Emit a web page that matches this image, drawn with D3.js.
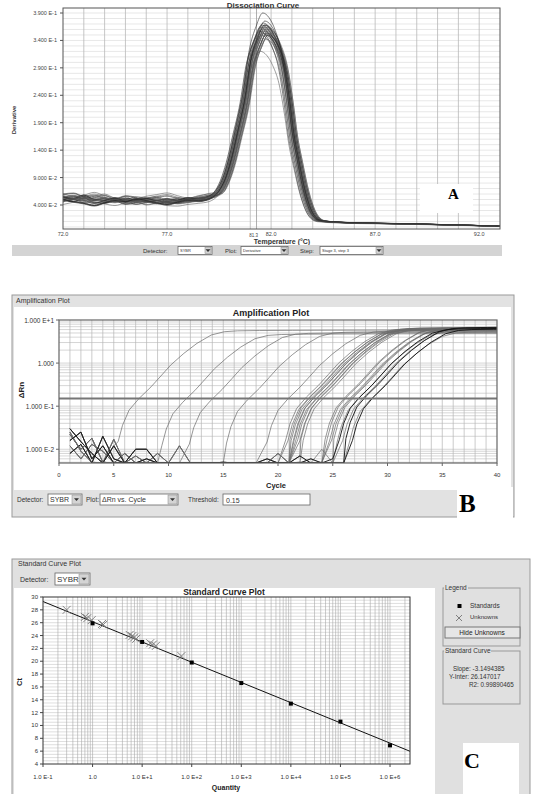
<!DOCTYPE html>
<html>
<head>
<meta charset="utf-8">
<script src="https://cdn.jsdelivr.net/npm/d3@7"></script>
<style>
    body { margin:0; background:#fff; }
    svg { display:block; font-family:"Liberation Sans", Arial, sans-serif; }
    .serif { font-family:"Liberation Serif", "Times New Roman", serif; font-weight:bold; }
</style>
</head>
<body>
<svg id="fig" width="537" height="794"></svg>
<script>
// ---------- panel A : dissociation curve ----------
var aYTicks = [0.39, 0.34, 0.29, 0.24, 0.19, 0.14, 0.09, 0.04];
var aYLabels = ["3.900 E-1", "3.400 E-1", "2.900 E-1", "2.400 E-1", "1.900 E-1", "1.400 E-1", "9.000 E-2", "4.000 E-2"];
var aXTicks = [72, 77, 82, 87, 92];
var aXLabels = ["72.0", "77.0", "82.0", "87.0", "92.0"];
var aTm = 81.3;
// baseline temperatures and hand read wiggles of the wells before the melt
var aBaseT = [72, 72.5, 73, 73.5, 74, 74.5, 75, 75.5, 76, 76.5, 77, 77.5, 78, 78.5, 79];
var aBaseNoise = [
    [0.055, 0.052, 0.058, 0.050, 0.049, 0.053, 0.047, 0.050, 0.052, 0.048, 0.051, 0.049, 0.053, 0.052, 0.056],
    [0.050, 0.056, 0.049, 0.054, 0.058, 0.051, 0.053, 0.046, 0.049, 0.054, 0.047, 0.052, 0.050, 0.055, 0.058],
    [0.058, 0.060, 0.053, 0.047, 0.051, 0.049, 0.055, 0.052, 0.044, 0.047, 0.050, 0.046, 0.048, 0.051, 0.054],
    [0.052, 0.048, 0.045, 0.041, 0.046, 0.050, 0.048, 0.053, 0.050, 0.046, 0.043, 0.047, 0.051, 0.050, 0.053],
    [0.060, 0.055, 0.057, 0.062, 0.056, 0.052, 0.049, 0.051, 0.055, 0.058, 0.061, 0.056, 0.052, 0.055, 0.060],
    [0.047, 0.051, 0.055, 0.052, 0.048, 0.045, 0.049, 0.047, 0.051, 0.049, 0.045, 0.044, 0.047, 0.049, 0.052]
];
// melt peak
var aPeakT = [79.5, 79.8, 80.1, 80.4, 80.75, 81.05, 81.38, 81.7, 82.0, 82.3, 82.6, 82.88, 83.08, 83.32, 83.62, 83.92, 84.15, 84.45, 85.3, 86.5, 88.2, 90.5, 93.0];
var aPeakV = [0.065, 0.086, 0.122, 0.171, 0.231, 0.304, 0.345, 0.368, 0.360, 0.338, 0.300, 0.231, 0.171, 0.122, 0.067, 0.031, 0.017, 0.011, 0.0085, 0.007, 0.006, 0.004, 0.0015];
// per well: temperature shift and peak height
var aShift = [-0.25, -0.2, -0.18, -0.15, -0.12, -0.1, -0.08, -0.06, -0.05, -0.03, -0.02, 0, 0, 0.02, 0.03, 0.05, 0.06, 0.08, 0.1, 0.12, 0.14, 0.16, 0.18, 0.2, -0.1, 0.05, -0.22, 0.0];
var aScale = [0.97, 0.99, 0.95, 1.0, 0.98, 0.96, 1.01, 0.97, 0.99, 1.0, 0.96, 0.98, 1.0, 0.97, 0.99, 0.95, 1.0, 0.98, 0.96, 0.99, 0.97, 0.95, 0.98, 0.96, 1.06, 0.93, 0.87, 1.02];
var aBaseOff = [0.000, -0.005, 0.002, -0.002, -0.004, 0.003, -0.006, -0.001, 0.001, -0.003, -0.002, 0.000, -0.005, 0.002, -0.004, -0.001, 0.001, -0.006, -0.002, 0.000, -0.003, 0.002, -0.005, -0.001, 0.000, -0.004, 0.001, -0.002];

// ---------- panel B : amplification plot ----------
var bXTicks = [0, 5, 10, 15, 20, 25, 30, 35, 40];
var bYTicks = [10, 1, 0.1, 0.01];
var bYLabels = ["1.000 E+1", "1.000", "1.000 E-1", "1.000 E-2"];
var bThreshold = 0.15;
// curve shape around the threshold cycle (cycles from Ct, dRn)
var bDc = [-1.9, -1.5, -0.9, 0, 1.1, 2.0, 2.9, 4.1, 5.3, 6.6, 7.8, 9.0, 11, 14, 18, 25, 34];
var bV = [0.015, 0.036, 0.081, 0.15, 0.28, 0.50, 0.90, 1.68, 2.87, 4.48, 5.35, 5.6, 5.7, 5.75, 5.8, 5.85, 5.9];
var bCt = [7.3, 11.3, 13.8, 17.2, 20.9, 22.6, 22.8, 23.0, 23.1, 23.3, 23.4, 23.5, 23.7, 23.9, 24.0, 24.2, 26.2, 26.4, 26.6, 26.8, 27.0, 27.3, 27.5, 27.8, 28.1, 28.4, 28.7];
var bPlateau = [5.6, 4.6, 4.9, 5.2, 5.5, 6.1, 5.8, 6.3, 5.9, 6.0, 6.4, 5.7, 6.2, 5.9, 6.5, 6.0, 6.3, 6.6, 5.8, 6.1, 6.4, 5.5, 6.2, 5.9, 6.6, 5.2, 6.0];
var bDark = [22, 24, 26];
// baseline noise for cycles 1..28
var bNoise = [
    [0.030, 0.015, 0.008, 0.004, 0.012, 0.003, 0.002, 0.006, 0.002, 0.001, 0.003, 0.001, 0.002, 0.001, 0.003, 0.002, 0.001, 0.004, 0.002, 0.001, 0.003, 0.002, 0.006, 0.002, 0.003, 0.004, 0.002, 0.003],
    [0.022, 0.010, 0.018, 0.005, 0.003, 0.008, 0.002, 0.001, 0.002, 0.004, 0.001, 0.002, 0.001, 0.002, 0.001, 0.002, 0.003, 0.001, 0.002, 0.008, 0.004, 0.003, 0.002, 0.005, 0.003, 0.002, 0.004, 0.002],
    [0.016, 0.025, 0.006, 0.012, 0.004, 0.002, 0.010, 0.010, 0.003, 0.001, 0.002, 0.001, 0.003, 0.001, 0.002, 0.001, 0.002, 0.002, 0.003, 0.002, 0.001, 0.007, 0.003, 0.002, 0.004, 0.003, 0.002, 0.003],
    [0.012, 0.006, 0.013, 0.009, 0.002, 0.004, 0.002, 0.003, 0.008, 0.002, 0.012, 0.001, 0.002, 0.003, 0.001, 0.002, 0.001, 0.002, 0.001, 0.003, 0.002, 0.002, 0.004, 0.010, 0.003, 0.002, 0.003, 0.002],
    [0.008, 0.013, 0.004, 0.020, 0.006, 0.003, 0.002, 0.001, 0.002, 0.003, 0.002, 0.001, 0.002, 0.002, 0.005, 0.003, 0.001, 0.002, 0.006, 0.002, 0.003, 0.002, 0.002, 0.003, 0.006, 0.004, 0.002, 0.003],
    [0.025, 0.009, 0.005, 0.003, 0.017, 0.002, 0.007, 0.002, 0.001, 0.002, 0.001, 0.003, 0.002, 0.001, 0.002, 0.001, 0.002, 0.001, 0.002, 0.004, 0.002, 0.005, 0.003, 0.004, 0.002, 0.003, 0.005, 0.004]
];

// ---------- panel C : standard curve ----------
var cXTicks = [0.1, 1, 10, 100, 1000, 10000, 100000, 1000000];
var cXLabels = ["1.0 E-1", "1.0", "1.0 E+1", "1.0 E+2", "1.0 E+3", "1.0 E+4", "1.0 E+5", "1.0 E+6"];
var cYTicks = [4, 6, 8, 10, 12, 14, 16, 18, 20, 22, 24, 26, 28, 30];
var cStdQty = [1, 10, 100, 1000, 10000, 100000, 1000000];
var cStdCt = [25.9, 23.0, 19.8, 16.6, 13.4, 10.6, 6.9];
var cUnkQty = [0.30, 0.70, 0.78, 0.96, 1.55, 1.65, 5.6, 6.3, 6.9, 7.6, 14.5, 16.5, 19.0, 62];
var cUnkCt = [28.0, 26.9, 26.7, 26.4, 25.8, 25.7, 24.1, 23.9, 23.7, 23.5, 22.8, 22.6, 22.4, 20.8];
var cSlope = -3.1494385;
var cInter = 26.147017;
var cR2 = 0.99890465;

var svg = d3.select("#fig");

function dropdown(g, x, y, w, h, label) {
    g.append("rect").attr("x", x).attr("y", y).attr("width", w).attr("height", h)
        .attr("fill", "#fff").attr("stroke", "#666").attr("stroke-width", 0.8);
    g.append("text").attr("x", x + 2).attr("y", y + h - 3).attr("font-size", h - 4).attr("fill", "#333").text(label);
    g.append("rect").attr("x", x + w - h + 1).attr("y", y + 1).attr("width", h - 2).attr("height", h - 2)
        .attr("fill", "#d4d4d4").attr("stroke", "#888").attr("stroke-width", 0.5);
    var cx = x + w - h / 2, cy = y + h / 2;
    g.append("path").attr("d", "M" + (cx - 2.5) + "," + (cy - 1.2) + "L" + (cx + 2.5) + "," + (cy - 1.2) + "L" + cx + "," + (cy + 1.5) + "Z")
        .attr("fill", "#333");
}

// =============== A ===============
var gA = svg.append("g");
var aL = 63, aR = 500, aT = 8, aB = 229;
var xA = d3.scaleLinear().domain([72, 93]).range([aL, aR]);
var yA = d3.scaleLinear().domain([0.04, 0.39]).range([205, 13]);

gA.append("rect").attr("x", aL).attr("y", aT).attr("width", aR - aL).attr("height", aB - aT).attr("fill", "#fff");
gA.append("clipPath").attr("id", "clipA").append("rect").attr("x", aL).attr("y", aT).attr("width", aR - aL).attr("height", aB - aT);

var aMinor = d3.range(-0.0, 0.4, 0.01).filter(function(v) { return yA(v) > aT && yA(v) < aB; });
gA.selectAll(".ahg").data(aMinor).enter().append("line")
    .attr("x1", aL).attr("x2", aR).attr("y1", function(d) { return yA(d); }).attr("y2", function(d) { return yA(d); })
    .attr("stroke", "#d6d6d6").attr("stroke-width", 0.6);
gA.selectAll(".avg").data(d3.range(73, 93, 1)).enter().append("line")
    .attr("y1", aT).attr("y2", aB).attr("x1", function(d) { return xA(d); }).attr("x2", function(d) { return xA(d); })
    .attr("stroke", "#b8b8b8").attr("stroke-width", 0.8);
gA.append("line").attr("x1", xA(aTm)).attr("x2", xA(aTm)).attr("y1", aT).attr("y2", aB).attr("stroke", "#999").attr("stroke-width", 0.8);

var lineA = d3.line().x(function(d) { return xA(d[0]); }).y(function(d) { return yA(d[1]); }).curve(d3.curveMonotoneX);
var aCurves = aShift.map(function(s, i) {
    var pts = aBaseT.map(function(t, j) { return [t, aBaseNoise[i % 6][j] + aBaseOff[i]]; });
    return pts.concat(aPeakT.map(function(t, j) { return [t + s, aPeakV[j] * aScale[i]]; }));
});
gA.append("g").attr("clip-path", "url(#clipA)").selectAll("path").data(aCurves).enter().append("path")
    .attr("d", lineA).attr("fill", "none").attr("stroke", function(d, i) { return i % 3 == 0 ? "#222" : "#555"; })
    .attr("stroke-width", 0.75).attr("stroke-opacity", 0.75);

gA.append("rect").attr("x", aL).attr("y", aT).attr("width", aR - aL).attr("height", aB - aT)
    .attr("fill", "none").attr("stroke", "#555").attr("stroke-width", 1);
gA.selectAll(".ayl").data(aYTicks).enter().append("text")
    .attr("x", aL - 6).attr("y", function(d) { return yA(d) + 2; }).attr("text-anchor", "end")
    .attr("font-size", 5.5).attr("fill", "#444").text(function(d, i) { return aYLabels[i]; });
gA.selectAll(".ayt").data(aYTicks).enter().append("line")
    .attr("x1", aL - 3).attr("x2", aL).attr("y1", function(d) { return yA(d); }).attr("y2", function(d) { return yA(d); })
    .attr("stroke", "#555");
gA.selectAll(".axl").data(aXTicks).enter().append("text")
    .attr("x", function(d) { return xA(d); }).attr("y", aB + 7).attr("text-anchor", "middle")
    .attr("font-size", 5.5).attr("fill", "#444").text(function(d, i) { return aXLabels[i]; });
gA.append("text").attr("x", xA(aTm) - 3).attr("y", aB + 8).attr("text-anchor", "middle").attr("font-size", 4.5).attr("fill", "#444").text("81.3");
gA.append("text").attr("x", 282).attr("y", aB + 15).attr("text-anchor", "middle").attr("font-size", 7)
    .attr("font-weight", "bold").attr("fill", "#333").text("Temperature (°C)");
gA.append("text").attr("transform", "translate(16,120) rotate(-90)").attr("text-anchor", "middle")
    .attr("font-size", 6).attr("font-weight", "bold").attr("fill", "#333").text("Derivative");
gA.append("text").attr("x", 263).attr("y", 8).attr("text-anchor", "middle").attr("font-size", 8)
    .attr("font-weight", "bold").attr("fill", "#333").text("Dissociation Curve");

gA.append("rect").attr("x", 420).attr("y", 184).attr("width", 53).attr("height", 29).attr("fill", "#fff");
gA.append("text").attr("class", "serif").attr("x", 448).attr("y", 199).attr("font-size", 15).text("A");

gA.append("rect").attr("x", 12).attr("y", 245).attr("width", 490).attr("height", 11).attr("fill", "#d4d4d4");
gA.append("text").attr("x", 143).attr("y", 252.5).attr("font-size", 6).attr("fill", "#333").text("Detector:");
dropdown(gA, 178, 246.5, 34, 8, "SYBR");
gA.append("text").attr("x", 225).attr("y", 252.5).attr("font-size", 6).attr("fill", "#333").text("Plot:");
dropdown(gA, 241, 246.5, 47, 8, "Derivative");
gA.append("text").attr("x", 300).attr("y", 252.5).attr("font-size", 6).attr("fill", "#333").text("Step:");
dropdown(gA, 320, 246.5, 63, 8, "Stage 3, step 3");

// =============== B ===============
var gB = svg.append("g");
gB.append("rect").attr("x", 12).attr("y", 295).attr("width", 502).attr("height", 222).attr("fill", "#e2e2e2").attr("stroke", "#9a9a9a");
gB.append("text").attr("x", 16).attr("y", 303).attr("font-size", 7).attr("fill", "#333").text("Amplification Plot");
gB.append("rect").attr("x", 14).attr("y", 307).attr("width", 497).attr("height", 183).attr("fill", "#fff");

var bL = 59, bR = 497, bT = 320, bBt = 463;
var xB = d3.scaleLinear().domain([0, 40]).range([bL, bR]);
var yB = d3.scaleLog().domain([0.0048, 10]).range([bBt, bT]).clamp(true);
gB.append("clipPath").attr("id", "clipB").append("rect").attr("x", bL).attr("y", bT).attr("width", bR - bL).attr("height", bBt - bT);

var bMinor = [];
[-3, -2, -1, 0].forEach(function(k) { d3.range(1, 10).forEach(function(m) { bMinor.push(m * Math.pow(10, k)); }); });
bMinor = bMinor.filter(function(v) { return v > 0.0048 && v < 10; });
gB.selectAll(".bhg").data(bMinor).enter().append("line")
    .attr("x1", bL).attr("x2", bR).attr("y1", function(d) { return yB(d); }).attr("y2", function(d) { return yB(d); })
    .attr("stroke", "#c4c4c4").attr("stroke-width", 0.7);
gB.selectAll(".bvg").data(d3.range(1, 40)).enter().append("line")
    .attr("y1", bT).attr("y2", bBt).attr("x1", function(d) { return xB(d); }).attr("x2", function(d) { return xB(d); })
    .attr("stroke", "#b4b4b4").attr("stroke-width", 0.7);

var lineB = d3.line().x(function(d) { return xB(d[0]); }).y(function(d) { return yB(d[1]); });
var bCurves = bCt.map(function(ct, i) {
    var pts = [];
    bNoise[i % 6].forEach(function(v, j) { if (j + 1 < ct + bDc[0]) pts.push([j + 1, v]); });
    return pts.concat(bDc.map(function(dc, j) { return [ct + dc, bV[j] * bPlateau[i] / 5.6]; }));
});
gB.append("g").attr("clip-path", "url(#clipB)").selectAll("path").data(bCurves).enter().append("path")
    .attr("d", lineB).attr("fill", "none")
    .attr("stroke", function(d, i) { return bDark.indexOf(i) >= 0 ? "#111" : "#6a6a6a"; })
    .attr("stroke-width", function(d, i) { return bDark.indexOf(i) >= 0 ? 0.9 : 0.7; });

gB.append("line").attr("x1", bL).attr("x2", bR).attr("y1", yB(bThreshold)).attr("y2", yB(bThreshold))
    .attr("stroke", "#777").attr("stroke-width", 2);
gB.append("rect").attr("x", bL).attr("y", bT).attr("width", bR - bL).attr("height", bBt - bT)
    .attr("fill", "none").attr("stroke", "#666").attr("stroke-width", 1.2);
gB.selectAll(".byl").data(bYTicks).enter().append("text")
    .attr("x", bL - 5).attr("y", function(d) { return yB(d) + 2.5; }).attr("text-anchor", "end")
    .attr("font-size", 6.5).attr("fill", "#333").text(function(d, i) { return bYLabels[i]; });
gB.selectAll(".byt").data(bYTicks).enter().append("line")
    .attr("x1", bL - 3).attr("x2", bL).attr("y1", function(d) { return yB(d); }).attr("y2", function(d) { return yB(d); })
    .attr("stroke", "#666");
gB.selectAll(".bxl").data(bXTicks).enter().append("text")
    .attr("x", function(d) { return xB(d); }).attr("y", 477).attr("text-anchor", "middle")
    .attr("font-size", 6).attr("fill", "#333").text(function(d) { return d; });
gB.selectAll(".bxt").data(bXTicks).enter().append("line")
    .attr("x1", function(d) { return xB(d); }).attr("x2", function(d) { return xB(d); }).attr("y1", bBt).attr("y2", bBt + 3)
    .attr("stroke", "#666");
gB.append("text").attr("x", 276).attr("y", 488).attr("text-anchor", "middle").attr("font-size", 7.5)
    .attr("font-weight", "bold").attr("fill", "#222").text("Cycle");
gB.append("text").attr("transform", "translate(24,390) rotate(-90)").attr("text-anchor", "middle")
    .attr("font-size", 8).attr("font-weight", "bold").attr("fill", "#222").text("ΔRn");
gB.append("text").attr("x", 271).attr("y", 316).attr("text-anchor", "middle").attr("font-size", 9)
    .attr("font-weight", "bold").attr("fill", "#222").text("Amplification Plot");

gB.append("text").attr("x", 17).attr("y", 502).attr("font-size", 6.5).attr("fill", "#333").text("Detector:");
dropdown(gB, 48, 494, 34, 11, "SYBR");
gB.append("text").attr("x", 86).attr("y", 502).attr("font-size", 6.5).attr("fill", "#333").text("Plot:");
dropdown(gB, 100, 494, 78, 11, "ΔRn vs. Cycle");
gB.append("text").attr("x", 188).attr("y", 502).attr("font-size", 6.5).attr("fill", "#333").text("Threshold:");
gB.append("rect").attr("x", 223).attr("y", 494).attr("width", 87).attr("height", 11).attr("fill", "#fff").attr("stroke", "#666").attr("stroke-width", 0.8);
gB.append("text").attr("x", 226).attr("y", 502.5).attr("font-size", 7).attr("fill", "#333").text(bThreshold.toFixed(2));
gB.append("rect").attr("x", 457).attr("y", 487).attr("width", 56).attr("height", 36).attr("fill", "#fff");
gB.append("text").attr("class", "serif").attr("x", 459).attr("y", 512).attr("font-size", 25).text("B");

// =============== C ===============
var gC = svg.append("g");
gC.append("rect").attr("x", 12).attr("y", 559).attr("width", 518).attr("height", 245).attr("fill", "#e0e0e0").attr("stroke", "#9a9a9a");
gC.append("text").attr("x", 18).attr("y", 566).attr("font-size", 7).attr("fill", "#333").text("Standard Curve Plot");
gC.append("text").attr("x", 20).attr("y", 582).attr("font-size", 7).attr("fill", "#333").text("Detector:");
dropdown(gC, 55, 573, 35, 12, "SYBR");
gC.append("rect").attr("x", 14).attr("y", 588).attr("width", 421).attr("height", 210).attr("fill", "#fff");

var cL = 43, cR = 410, cT = 597, cBt = 764;
var xC = d3.scaleLog().domain([0.1, 2.53e6]).range([cL, cR]);
var yC = d3.scaleLinear().domain([4, 30]).range([cBt, cT]);

gC.selectAll(".chg").data(d3.range(4.5, 30, 0.5)).enter().append("line")
    .attr("x1", cL).attr("x2", cR).attr("y1", function(d) { return yC(d); }).attr("y2", function(d) { return yC(d); })
    .attr("stroke", "#c8c8c8").attr("stroke-width", 0.6);
var cMinor = [];
[-1, 0, 1, 2, 3, 4, 5, 6].forEach(function(k) { d3.range(1, 10).forEach(function(m) { cMinor.push(m * Math.pow(10, k)); }); });
cMinor = cMinor.filter(function(v) { return v > 0.1 && v < 2.53e6; });
gC.selectAll(".cvg").data(cMinor).enter().append("line")
    .attr("y1", cT).attr("y2", cBt).attr("x1", function(d) { return xC(d); }).attr("x2", function(d) { return xC(d); })
    .attr("stroke", "#a8a8a8").attr("stroke-width", 0.6);

var qEnds = [0.1, 2.53e6];
gC.append("line").attr("x1", xC(qEnds[0])).attr("y1", yC(cInter + cSlope * Math.log10(qEnds[0])))
    .attr("x2", xC(qEnds[1])).attr("y2", yC(cInter + cSlope * Math.log10(qEnds[1])))
    .attr("stroke", "#111").attr("stroke-width", 1);

gC.selectAll(".unk").data(cUnkQty).enter().append("path")
    .attr("d", function(d, i) {
        var x = xC(d), y = yC(cUnkCt[i]), r = 4;
        return "M" + (x - r) + "," + (y - r) + "L" + (x + r) + "," + (y + r) + "M" + (x - r) + "," + (y + r) + "L" + (x + r) + "," + (y - r);
    })
    .attr("stroke", "#777").attr("stroke-width", 0.9).attr("fill", "none");
gC.selectAll(".std").data(cStdQty).enter().append("rect")
    .attr("x", function(d) { return xC(d) - 2; }).attr("y", function(d, i) { return yC(cStdCt[i]) - 2; })
    .attr("width", 4).attr("height", 4).attr("fill", "#000");

gC.append("rect").attr("x", cL).attr("y", cT).attr("width", cR - cL).attr("height", cBt - cT)
    .attr("fill", "none").attr("stroke", "#333").attr("stroke-width", 1);
gC.selectAll(".cyl").data(cYTicks).enter().append("text")
    .attr("x", cL - 5).attr("y", function(d) { return yC(d) + 2; }).attr("text-anchor", "end")
    .attr("font-size", 6).attr("fill", "#333").text(function(d) { return d; });
gC.selectAll(".cyt").data(cYTicks).enter().append("line")
    .attr("x1", cL - 3).attr("x2", cL).attr("y1", function(d) { return yC(d); }).attr("y2", function(d) { return yC(d); })
    .attr("stroke", "#444");
gC.selectAll(".cxl").data(cXTicks).enter().append("text")
    .attr("x", function(d) { return xC(d); }).attr("y", 779).attr("text-anchor", "middle")
    .attr("font-size", 6).attr("fill", "#333").text(function(d, i) { return cXLabels[i]; });
gC.selectAll(".cxt").data(cXTicks).enter().append("line")
    .attr("x1", function(d) { return xC(d); }).attr("x2", function(d) { return xC(d); }).attr("y1", cBt).attr("y2", cBt + 3)
    .attr("stroke", "#444");
gC.append("text").attr("x", 226).attr("y", 790).attr("text-anchor", "middle").attr("font-size", 7)
    .attr("font-weight", "bold").attr("fill", "#222").text("Quantity");
gC.append("text").attr("transform", "translate(22,682) rotate(-90)").attr("text-anchor", "middle")
    .attr("font-size", 7.5).attr("font-weight", "bold").attr("fill", "#222").text("Ct");
gC.append("text").attr("x", 224).attr("y", 595).attr("text-anchor", "middle").attr("font-size", 8.5)
    .attr("font-weight", "bold").attr("fill", "#222").text("Standard Curve Plot");

// legend box
gC.append("rect").attr("x", 443).attr("y", 588).attr("width", 77).attr("height", 58).attr("fill", "none").attr("stroke", "#999");
gC.append("rect").attr("x", 444).attr("y", 585).attr("width", 24).attr("height", 6).attr("fill", "#e0e0e0");
gC.append("text").attr("x", 445).attr("y", 590).attr("font-size", 6.5).attr("fill", "#333").text("Legend");
gC.append("rect").attr("x", 457.5).attr("y", 604).attr("width", 4).attr("height", 4).attr("fill", "#000");
gC.append("text").attr("x", 470).attr("y", 608).attr("font-size", 6.5).attr("fill", "#333").text("Standards");
gC.append("path").attr("d", "M456,615L462,621M456,621L462,615").attr("stroke", "#666").attr("stroke-width", 0.8);
gC.append("text").attr("x", 470).attr("y", 619).attr("font-size", 6).attr("fill", "#333").text("Unknowns");
gC.append("rect").attr("x", 445).attr("y", 627).attr("width", 75).attr("height", 11).attr("fill", "#e6e6e6").attr("stroke", "#777");
gC.append("text").attr("x", 482).attr("y", 635).attr("text-anchor", "middle").attr("font-size", 6.5).attr("fill", "#222").text("Hide Unknowns");

gC.append("rect").attr("x", 443).attr("y", 651).attr("width", 77).attr("height", 53).attr("fill", "none").attr("stroke", "#999");
gC.append("rect").attr("x", 444).attr("y", 648).attr("width", 47).attr("height", 6).attr("fill", "#e0e0e0");
gC.append("text").attr("x", 445).attr("y", 653).attr("font-size", 6.5).attr("fill", "#333").text("Standard Curve");
var cStats = [["Slope:", cSlope.toFixed(7)], ["Y-Inter:", cInter.toFixed(6)], ["R2:", cR2.toFixed(8)]];
var cStatX = [453, 449, 469];
gC.selectAll(".stat").data(cStats).enter().append("text")
    .attr("x", function(d, i) { return cStatX[i]; }).attr("y", function(d, i) { return 671 + i * 8; })
    .attr("font-size", 6.3).attr("fill", "#333").text(function(d) { return d[0] + " " + d[1]; });

gC.append("rect").attr("x", 463).attr("y", 743).attr("width", 56).attr("height", 55).attr("fill", "#fff");
gC.append("text").attr("class", "serif").attr("x", 464).attr("y", 768).attr("font-size", 22).text("C");
</script>
</body>
</html>
